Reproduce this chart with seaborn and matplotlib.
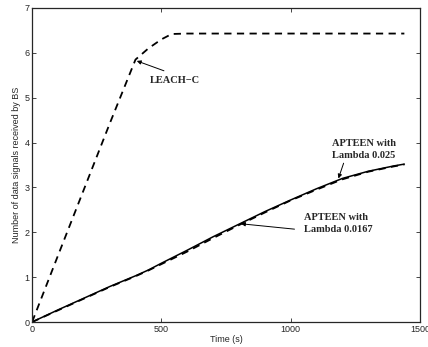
import matplotlib
matplotlib.use("Agg")
import matplotlib.pyplot as plt
import seaborn as sns

# LEACH-C
t_leach = [0, 100, 200, 300, 400, 420, 450, 500, 540, 600, 800, 1000, 1200, 1440]
y_leach = [0, 1.48, 2.95, 4.42, 5.85, 5.95, 6.1, 6.3, 6.42, 6.43, 6.43, 6.43, 6.43, 6.43]

# APTEEN, lambda 0.025 (solid) and 0.0167 (dashed)
t_apteen = [0, 100, 200, 300, 400, 450, 500, 600, 700, 800, 900, 1000, 1100, 1200, 1300, 1400, 1440]
y_ap_025 = [0, 0.27, 0.53, 0.79, 1.03, 1.16, 1.31, 1.6, 1.9, 2.18, 2.46, 2.72, 2.97, 3.2, 3.36, 3.48, 3.52]
y_ap_0167 = [0, 0.26, 0.52, 0.78, 1.02, 1.15, 1.29, 1.57, 1.87, 2.16, 2.44, 2.71, 2.95, 3.18, 3.35, 3.47, 3.51]

sns.set_style("ticks")
plt.rcParams["font.family"] = ["Liberation Sans", "DejaVu Sans"]

fig = plt.figure(figsize=(4.28, 3.47), dpi=100)
ax = fig.add_axes([0.075, 0.072, 0.906, 0.905])

sns.lineplot(x=t_leach, y=y_leach, ax=ax, color="black", linewidth=1.3,
             linestyle=(0, (4, 3)))
sns.lineplot(x=t_apteen, y=y_ap_025, ax=ax, color="black", linewidth=1.1)
sns.lineplot(x=t_apteen, y=y_ap_0167, ax=ax, color="black", linewidth=1.3,
             linestyle=(0, (4, 3)))

ax.set_xlim(0, 1500)
ax.set_ylim(0, 7)
ax.set_xticks([0, 500, 1000, 1500])
ax.set_yticks(range(0, 8))
ax.tick_params(direction="in", top=True, right=True, labelsize=6.5,
               length=3, width=0.6, pad=2)
for s in ax.spines.values():
    s.set_linewidth(0.9)

ax.set_xlabel("Time (s)", fontsize=6.5, labelpad=1)
ax.set_ylabel("Number of data signals received by BS", fontsize=6.5, labelpad=2)

txt = dict(fontsize=7.5, fontweight="bold", family="Liberation Serif",
           linespacing=1.5)
arr = dict(arrowstyle="-|>", color="black", lw=0.7, mutation_scale=6,
           shrinkA=0, shrinkB=0)

ax.text(455, 5.38, "LEACH\u2212C", va="center", ha="left", **txt)
ax.annotate("", xy=(405, 5.82), xytext=(510, 5.6), arrowprops=arr)

ax.text(1160, 3.85, "APTEEN with\nLambda 0.025", va="center", ha="left", **txt)
ax.annotate("", xy=(1185, 3.2), xytext=(1205, 3.54), arrowprops=arr)

ax.text(1050, 2.2, "APTEEN with\nLambda 0.0167", va="center", ha="left", **txt)
ax.annotate("", xy=(808, 2.19), xytext=(1015, 2.07), arrowprops=arr)

fig.savefig("out.png", dpi=100)
